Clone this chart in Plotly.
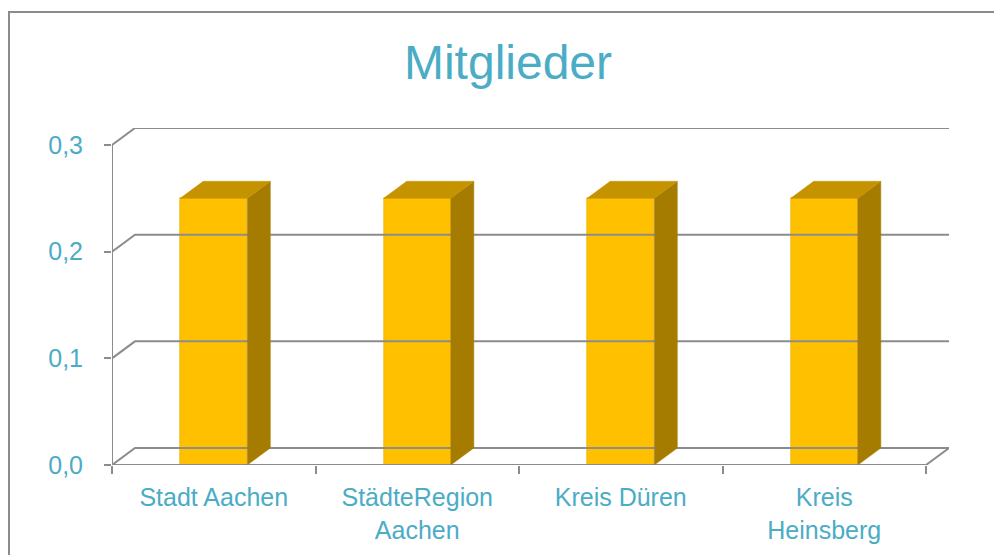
import plotly.graph_objects as go

# ---- data ----
categories = ["Stadt Aachen", "StädteRegion<br>Aachen", "Kreis Düren", "Kreis<br>Heinsberg"]
values = [0.25, 0.25, 0.25, 0.25]
y_ticks = [0.0, 0.1, 0.2, 0.3]
title_text = "Mitglieder"

# ---- style / geometry ----
W, H = 994, 555
L, R, T, B = 112, 45, 128, 90
plot_w = W - L - R
plot_h = H - T - B
n = len(categories)
y_max = 0.3
dx_px, dy_px = 23, 17
x_unit = (plot_w - dx_px) / n          # px per category
dx = dx_px / x_unit
y_unit = (plot_h - dy_px) / y_max
dy = dy_px / y_unit
bar_w = 0.33
h = bar_w / 2

TXT = "#4BACC6"
GRID = "#8C8C8C"
FRONT = "#FFC000"
SIDE = "#A67C00"
TOP = "#C69300"

x0, x1 = -0.5, n - 0.5
xs = list(range(n))

fig = go.Figure()

# back wall grid lines + left diagonals
for v in y_ticks:
    fig.add_trace(go.Scatter(
        x=[x0, x0 + dx, x1 + dx], y=[v, v + dy, v + dy],
        mode="lines", line=dict(color=GRID, width=2),
        hoverinfo="skip", showlegend=False))
# floor right diagonal
fig.add_trace(go.Scatter(
    x=[x1, x1 + dx], y=[0, dy], mode="lines",
    line=dict(color=GRID, width=2), hoverinfo="skip", showlegend=False))
# front y axis line
fig.add_trace(go.Scatter(
    x=[x0, x0], y=[0, y_max], mode="lines",
    line=dict(color=GRID, width=2), hoverinfo="skip", showlegend=False))
# front floor edge
fig.add_trace(go.Scatter(
    x=[x0, x1], y=[0, 0], mode="lines",
    line=dict(color=GRID, width=2), hoverinfo="skip", showlegend=False))

# bar side and top faces
for c, v in zip(xs, values):
    fig.add_trace(go.Scatter(
        x=[c + h, c + h + dx, c + h + dx, c + h, c + h],
        y=[0, dy, v + dy, v, 0],
        fill="toself", fillcolor=SIDE, mode="lines",
        line=dict(color=SIDE, width=0.5), hoverinfo="skip", showlegend=False))
    fig.add_trace(go.Scatter(
        x=[c - h, c - h + dx, c + h + dx, c + h, c - h],
        y=[v, v + dy, v + dy, v, v],
        fill="toself", fillcolor=TOP, mode="lines",
        line=dict(color=TOP, width=0.5), hoverinfo="skip", showlegend=False))

# bar front faces
fig.add_trace(go.Bar(
    x=xs, y=values, width=bar_w,
    marker=dict(color=FRONT, line=dict(color="#E6AC00", width=0.6)),
    hoverinfo="skip", showlegend=False))

fig.update_layout(
    width=W, height=H,
    margin=dict(l=L, r=R, t=T, b=B, pad=0),
    paper_bgcolor="white", plot_bgcolor="white",
    separators=",.",
    font=dict(family="Liberation Sans, Arial, sans-serif", color=TXT),
    title=dict(text=title_text, x=508 / W, xref="container", xanchor="center",
               y=1 - 62 / H, yref="container", yanchor="middle",
               font=dict(size=48, color=TXT)),
    bargap=0,
    xaxis=dict(range=[x0, x1 + dx], tickvals=xs, ticktext=categories,
               ticks="", showgrid=False, zeroline=False, showline=False,
               automargin=False, tickfont=dict(size=25, color=TXT),
               ticklabelstandoff=15,
               minor=dict(ticks="outside", tick0=-0.5, dtick=1, ticklen=8,
                          tickwidth=2, tickcolor=GRID, showgrid=False),
               fixedrange=True),
    yaxis=dict(range=[0, y_max + dy], tickvals=y_ticks, tickformat=".1f",
               ticks="outside", ticklen=7, tickwidth=2, tickcolor=GRID,
               showgrid=False, zeroline=False, showline=False,
               automargin=False, tickfont=dict(size=25, color=TXT),
               ticklabelstandoff=16, fixedrange=True),
    shapes=[dict(type="rect", xref="paper", yref="paper",
                 x0=(9 - L) / plot_w, x1=(W + 20 - L) / plot_w,
                 y0=-(B + 20) / plot_h, y1=1 + (T - 12) / plot_h,
                 line=dict(color="#8C8C8C", width=2), layer="below")],
)

fig.write_html("out.html", config={"displayModeBar": False},
               post_script="document.body.style.margin='0';")
